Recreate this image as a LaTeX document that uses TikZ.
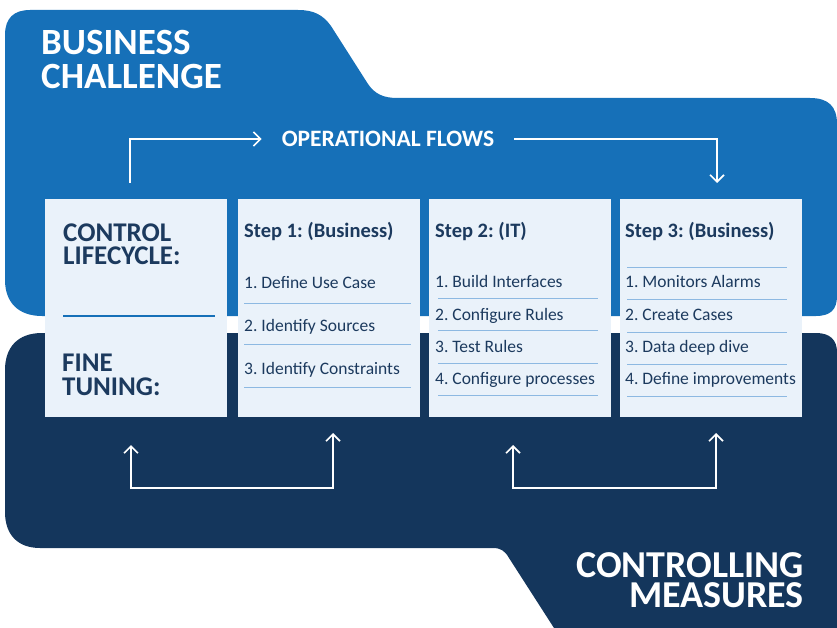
\documentclass[tikz,border=0pt]{standalone}
\usepackage{fontspec}
\setmainfont{Carlito}
\usetikzlibrary{arrows.meta}
\definecolor{bizblue}{HTML}{1670B8}
\definecolor{measnavy}{HTML}{14365C}
\definecolor{boxfill}{HTML}{EAF2FA}
\definecolor{inktext}{HTML}{1C3A5E}
\definecolor{rulelight}{HTML}{8DB9E2}
\frenchspacing
\begin{document}
\begin{tikzpicture}
    [x=1pt,y=-1pt,
     panel/.style={fill=boxfill,anchor=north west,minimum width=182pt,minimum height=218pt,inner sep=0pt},
     flow/.style={draw=white,line width=1.6pt,>={Straight Barb[length=7pt,width=14pt]}},
     bighead/.style={text=white,font=\bfseries\fontsize{37}{34}\selectfont,align=left,anchor=base west,inner sep=0pt},
     lifehead/.style={text=inktext,font=\bfseries\fontsize{27}{23.5}\selectfont,align=left,anchor=base west,inner sep=0pt},
     steptitle/.style={text=inktext,font=\bfseries\fontsize{20.5}{20.5}\selectfont,anchor=base west,inner sep=0pt},
     item/.style={text=inktext,font=\fontsize{17.5}{17.5}\selectfont,anchor=base west,inner sep=0pt},
     divider/.style={draw=rulelight,line width=1pt}]
    \useasboundingbox (0,0) rectangle (837,628);
    % the two backgrounds
    \fill[bizblue] (5,35) .. controls (5,18) and (14,10) .. (30,10) -- (298,10)
      .. controls (314,10) and (323,15) .. (331,26) -- (368,84)
      .. controls (375,94) and (383,98) .. (398,98) -- (810,98)
      .. controls (828,98) and (837,106) .. (837,124) -- (837,296)
      .. controls (837,310) and (830,316) .. (816,316) -- (42,316)
      .. controls (18,316) and (5,302) .. (5,280) -- cycle;
    \fill[measnavy] (5,370) .. controls (5,347) and (18,333) .. (42,333) -- (816,333)
      .. controls (830,333) and (837,340) .. (837,352) -- (837,628) -- (554,628)
      -- (509,558) .. controls (505,551) and (501,548) .. (493,548) -- (40,548)
      .. controls (18,548) and (5,535) .. (5,512) -- cycle;
    % base anchor sits on the last line
    \node[bighead] (biz) at (41,89) {BUSINESS\\CHALLENGE};
    \node[bighead,font=\bfseries\fontsize{38}{30}\selectfont,align=right,anchor=base east] (meas) at (804,607) {CONTROLLING\\MEASURES};
    % the four panels
    \node[panel] (life) at (45,199) {};
    \node[panel] (step1) at (238,199) {};
    \node[panel] (step2) at (429,199) {};
    \node[panel] (step3) at (620,199) {};
    \node[lifehead] (lc) at (63,265) {CONTROL\\LIFECYCLE:};
    \draw[bizblue,line width=1.2pt] (63,316) -- (215,316);
    \node[lifehead] (ft) at (62,395) {FINE\\TUNING:};
    % step 1
    \node[steptitle] (t1) at (244,237) {Step 1: (Business)};
    \node[item] (s1a) at (244,288) {1. Define Use Case};
    \node[item] (s1b) at (244,331) {2. Identify Sources};
    \node[item] (s1c) at (244,374) {3. Identify Constraints};
    \draw[divider] (244,303) -- (411,303) (244,344) -- (411,344) (244,387) -- (411,387);
    % step 2
    \node[steptitle] (t2) at (435,237) {Step 2: (IT)};
    \node[item] (s2a) at (435,287) {1. Build Interfaces};
    \node[item] (s2b) at (435,320) {2. Configure Rules};
    \node[item] (s2c) at (435,352) {3. Test Rules};
    \node[item] (s2d) at (435,384) {4. Configure processes};
    \draw[divider] (438,298) -- (598,298) (438,330) -- (598,330) (438,363) -- (598,363) (438,395) -- (598,395);
    % step 3
    \node[steptitle] (t3) at (625,237) {Step 3: (Business)};
    \node[item] (s3a) at (625,287) {1. Monitors Alarms};
    \node[item] (s3b) at (625,320) {2. Create Cases};
    \node[item] (s3c) at (625,352) {3. Data deep dive};
    \node[item] (s3d) at (625,384) {4. Define improvements};
    \draw[divider] (627,267) -- (787,267) (627,299) -- (787,299) (627,332) -- (787,332) (627,364) -- (787,364) (627,396) -- (787,396);
    % flows
    \node[text=white,font=\bfseries\fontsize{23.5}{23.5}\selectfont,inner xsep=20pt,inner ysep=0pt] (ops) at (388,139) {OPERATIONAL FLOWS};
    \coordinate (up0) at (130,183);
    \coordinate (dn3) at (717,183);
    \draw[flow,->] (up0) |- (ops.west);
    \draw[flow,->] (ops.east) -| (dn3);
    \coordinate (fbase) at (0,488);
    \coordinate (fb0) at (131,445);
    \coordinate (fb1) at (333,433);
    \coordinate (fb2) at (513,445);
    \coordinate (fb3) at (716,433);
    \draw[flow,<->] (fb0) -- (fb0 |- fbase) -| (fb1);
    \draw[flow,<->] (fb2) -- (fb2 |- fbase) -| (fb3);
  \end{tikzpicture}
\end{document}
